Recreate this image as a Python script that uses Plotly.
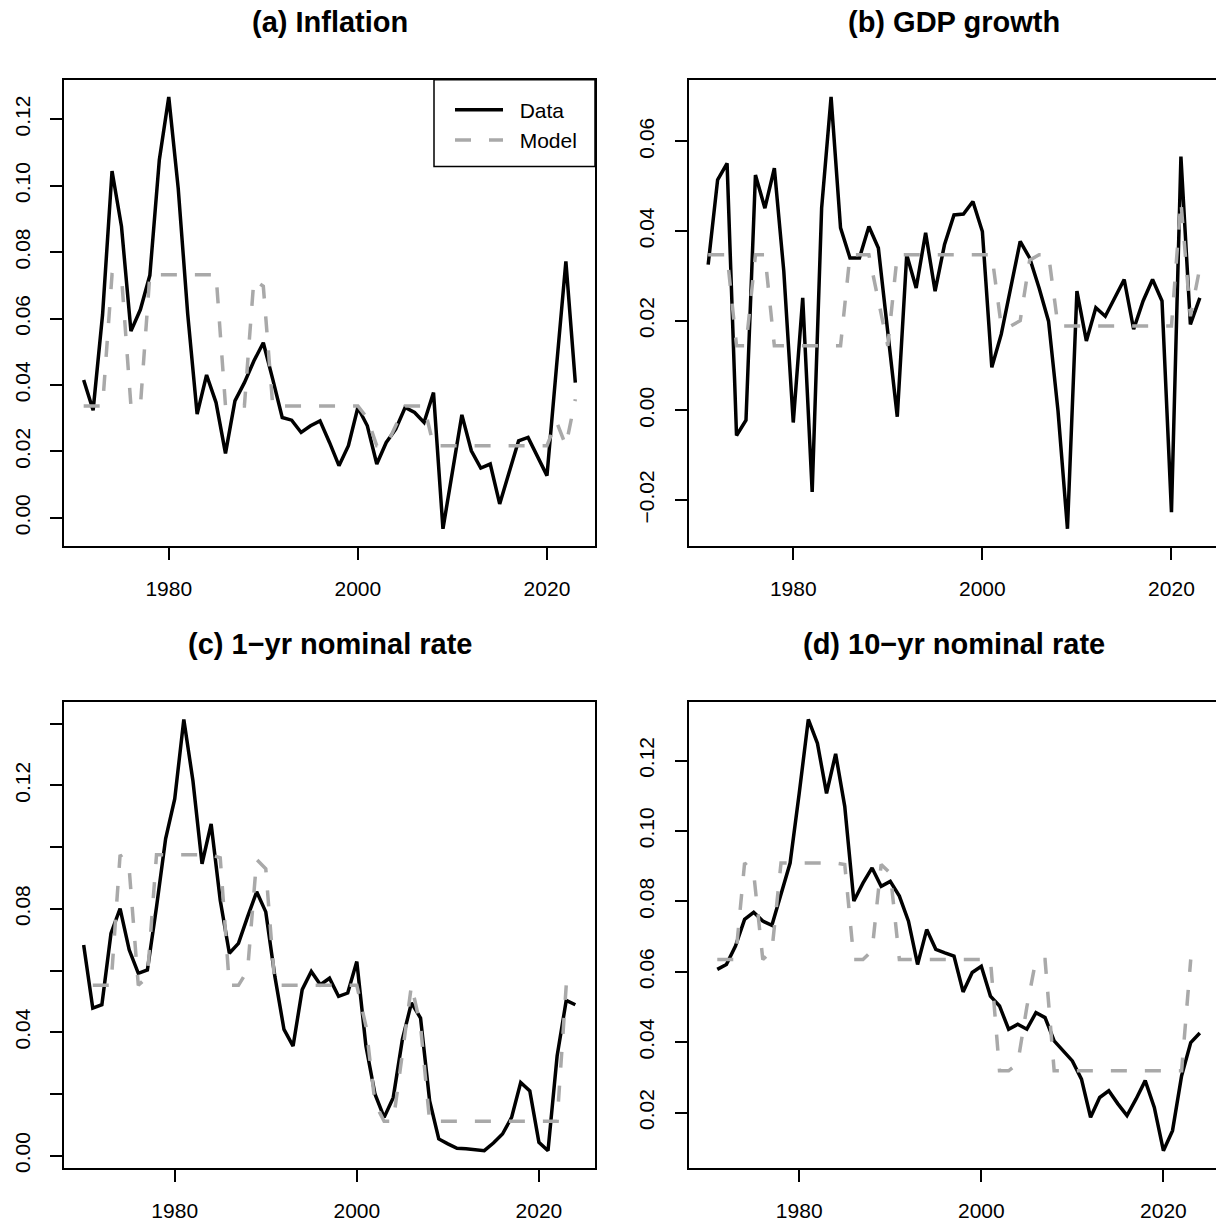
import plotly.graph_objects as go

# ---------------- data ----------------
years_ab = list(range(1971, 2024))          # panels (a), (b)
years_c = list(range(1970, 2025))           # panel (c) data
years_d = list(range(1971, 2025))           # panel (d) data
years_model = list(range(1971, 2024))       # model series (all panels)

infl_data = [0.0415, 0.0324, 0.0612, 0.1044, 0.0877, 0.0562, 0.0627, 0.0730, 0.1077, 0.1267,
             0.0992, 0.0615, 0.0312, 0.0430, 0.0347, 0.0194, 0.0352, 0.0407, 0.0472, 0.0527,
             0.0417, 0.0302, 0.0294, 0.0257, 0.0277, 0.0292, 0.0227, 0.0157, 0.0217, 0.0332,
             0.0277, 0.0162, 0.0227, 0.0267, 0.0332, 0.0317, 0.0287, 0.0377, -0.0033, 0.0142,
             0.0310, 0.0202, 0.0150, 0.0162, 0.0042, 0.0137, 0.0232, 0.0242, 0.0182, 0.0127,
             0.0452, 0.0772, 0.0407]
infl_model = [0.0337, 0.0337, 0.0337, 0.0732, 0.0727, 0.0337, 0.0337, 0.0732, 0.0732, 0.0732,
              0.0732, 0.0732, 0.0732, 0.0732, 0.0732, 0.0337, 0.0337, 0.0337, 0.0717, 0.0697,
              0.0337, 0.0337, 0.0337, 0.0337, 0.0337, 0.0337, 0.0337, 0.0337, 0.0337, 0.0337,
              0.0300, 0.0217, 0.0217, 0.0277, 0.0337, 0.0337, 0.0337, 0.0217, 0.0217, 0.0217,
              0.0217, 0.0217, 0.0217, 0.0217, 0.0217, 0.0217, 0.0217, 0.0217, 0.0217, 0.0217,
              0.0290, 0.0217, 0.0357]

gdp_data = [0.0325, 0.0514, 0.0551, -0.0056, -0.0022, 0.0525, 0.0451, 0.0540, 0.0310, -0.0027,
            0.0251, -0.0182, 0.0451, 0.0699, 0.0407, 0.0340, 0.0340, 0.0410, 0.0362, 0.0177,
            -0.0014, 0.0347, 0.0273, 0.0396, 0.0266, 0.0370, 0.0436, 0.0438, 0.0466, 0.0399,
            0.0096, 0.0170, 0.0273, 0.0377, 0.0340, 0.0273, 0.0199, -0.0001, -0.0264, 0.0266,
            0.0155, 0.0229, 0.0210, 0.0251, 0.0292, 0.0181, 0.0244, 0.0292, 0.0244, -0.0227,
            0.0566, 0.0192, 0.0251]
gdp_model = [0.0347, 0.0347, 0.0347, 0.0144, 0.0144, 0.0347, 0.0347, 0.0144, 0.0144, 0.0144,
             0.0144, 0.0144, 0.0144, 0.0144, 0.0144, 0.0347, 0.0347, 0.0347, 0.0245, 0.0144,
             0.0347, 0.0347, 0.0347, 0.0347, 0.0347, 0.0347, 0.0347, 0.0347, 0.0347, 0.0347,
             0.0347, 0.0188, 0.0188, 0.0200, 0.0335, 0.0347, 0.0347, 0.0188, 0.0188, 0.0188,
             0.0188, 0.0188, 0.0188, 0.0188, 0.0188, 0.0188, 0.0188, 0.0188, 0.0188, 0.0188,
             0.0466, 0.0210, 0.0318]

r1_data = [0.0683, 0.0478, 0.0489, 0.0720, 0.0801, 0.0667, 0.0591, 0.0602, 0.0806, 0.1027,
           0.1156, 0.1414, 0.1215, 0.0946, 0.1075, 0.0828, 0.0656, 0.0688, 0.0774, 0.0855,
           0.0790, 0.0581, 0.0409, 0.0355, 0.0538, 0.0597, 0.0554, 0.0575, 0.0516, 0.0527,
           0.0629, 0.0355, 0.0199, 0.0124, 0.0188, 0.0376, 0.0495, 0.0446, 0.0177, 0.0054,
           0.0038, 0.0024, 0.0022, 0.0019, 0.0016, 0.0041, 0.0070, 0.0124, 0.0237, 0.0210,
           0.0043, 0.0016, 0.0323, 0.0503, 0.0489]
r1_model = [0.0552, 0.0552, 0.0552, 0.0975, 0.0930, 0.0552, 0.0580, 0.0975, 0.0975, 0.0975,
            0.0975, 0.0975, 0.0975, 0.0975, 0.0965, 0.0552, 0.0552, 0.0600, 0.0960, 0.0930,
            0.0552, 0.0552, 0.0552, 0.0552, 0.0552, 0.0552, 0.0552, 0.0552, 0.0552, 0.0552,
            0.0420, 0.0170, 0.0111, 0.0111, 0.0330, 0.0552, 0.0420, 0.0111, 0.0111, 0.0111,
            0.0111, 0.0111, 0.0111, 0.0111, 0.0111, 0.0111, 0.0111, 0.0111, 0.0111, 0.0111,
            0.0111, 0.0111, 0.0552]

r10_data = [0.0607, 0.0621, 0.0673, 0.0749, 0.0769, 0.0744, 0.0732, 0.0820, 0.0909, 0.1107,
            0.1317, 0.1249, 0.1107, 0.1219, 0.1070, 0.0801, 0.0852, 0.0895, 0.0843, 0.0857,
            0.0815, 0.0744, 0.0621, 0.0720, 0.0664, 0.0654, 0.0645, 0.0543, 0.0598, 0.0616,
            0.0531, 0.0503, 0.0437, 0.0451, 0.0437, 0.0484, 0.0470, 0.0404, 0.0376, 0.0347,
            0.0295, 0.0187, 0.0243, 0.0262, 0.0225, 0.0192, 0.0239, 0.0291, 0.0215, 0.0092,
            0.0149, 0.0305, 0.0399, 0.0426]
r10_model = [0.0635, 0.0635, 0.0635, 0.0909, 0.0880, 0.0635, 0.0660, 0.0909, 0.0909, 0.0909,
             0.0909, 0.0909, 0.0909, 0.0909, 0.0905, 0.0635, 0.0635, 0.0660, 0.0905, 0.0880,
             0.0635, 0.0635, 0.0635, 0.0635, 0.0635, 0.0635, 0.0635, 0.0635, 0.0635, 0.0635,
             0.0635, 0.0319, 0.0319, 0.0340, 0.0500, 0.0635, 0.0635, 0.0319, 0.0319, 0.0319,
             0.0319, 0.0319, 0.0319, 0.0319, 0.0319, 0.0319, 0.0319, 0.0319, 0.0319, 0.0319,
             0.0319, 0.0319, 0.0635]

titles = ["(a) Inflation", "(b) GDP growth", "(c) 1\u2212yr nominal rate", "(d) 10\u2212yr nominal rate"]
x_ticks = [1980, 2000, 2020]
y_ticks_a = [0.00, 0.02, 0.04, 0.06, 0.08, 0.10, 0.12]
y_ticks_b = [-0.02, 0.00, 0.02, 0.04, 0.06]
y_ticks_c = [0.00, 0.02, 0.04, 0.06, 0.08, 0.10, 0.12, 0.14]
y_labels_c = ["0.00", "", "0.04", "", "0.08", "", "0.12", ""]
y_ticks_d = [0.02, 0.04, 0.06, 0.08, 0.10, 0.12]
legend_names = ["\u00a0\u00a0Data", "\u00a0\u00a0Model"]

# ---------------- layout geometry (pixels) ----------------
W, H = 1216, 1230
FONT = "Liberation Sans, Arial, Helvetica, sans-serif"
BLACK_W = 3.5
GRAY = "#A9A9A9"


def r_range(vals, ext=0.04):
    lo, hi = min(vals), max(vals)
    d = hi - lo
    return [lo - ext * d, hi + ext * d]


def px_dom_x(x0, x1):
    return [x0 / W, min(1.0, x1 / W)]


def px_dom_y(top, bottom):
    return [1 - bottom / H, 1 - top / H]


fig = go.Figure()

panels = [
    ("", years_ab, infl_data, infl_model),
    ("2", years_ab, gdp_data, gdp_model),
    ("3", years_c, r1_data, r1_model),
    ("4", years_d, r10_data, r10_model),
]

for i, (ax, yrs, dat, mod) in enumerate(panels):
    fig.add_trace(go.Scatter(x=yrs, y=dat, mode="lines", name=legend_names[0],
                             line=dict(color="black", width=BLACK_W),
                             xaxis="x" + ax, yaxis="y" + ax, showlegend=(i == 0)))
    fig.add_trace(go.Scatter(x=years_model, y=mod, mode="lines", name=legend_names[1],
                             line=dict(color=GRAY, width=BLACK_W, dash="16px,18px"),
                             xaxis="x" + ax, yaxis="y" + ax, showlegend=(i == 0)))

# x ranges following R's 4% extension
xr_ab = r_range(years_ab)
xr_cd = r_range(years_c)
ppy_ab = 531 / (xr_ab[1] - xr_ab[0])
ppy_cd = 531 / (xr_cd[1] - xr_cd[0])
xr_b = [xr_ab[0], xr_ab[0] + (W - 688.5) / ppy_ab]
xr_d = [xr_cd[0], xr_cd[0] + (W - 688.5) / ppy_cd]

col1 = px_dom_x(64, 595)
col2 = px_dom_x(688.5, W)
row1 = px_dom_y(80, 548.3)
row2 = px_dom_y(705, 1172.7)

common_axis = dict(showline=True, linecolor="black", linewidth=1.5, ticks="outside",
                   ticklen=12, tickwidth=1.5, tickcolor="black", showgrid=False,
                   zeroline=False, tickfont=dict(family=FONT, size=21, color="black"))


def xaxis(dom, rng, anchor, mirror=True):
    d = dict(common_axis)
    d.update(domain=dom, range=rng, anchor=anchor, tickvals=x_ticks,
             ticktext=[str(v) for v in x_ticks], mirror=mirror, ticklabelstandoff=11)
    return d


def yaxis(dom, rng, anchor, tv, tl, mirror=True):
    d = dict(common_axis)
    if tl is None:
        tl = [("\u2212" if v < 0 else "") + f"{abs(v):.2f}" for v in tv]
    d.update(domain=dom, range=rng, anchor=anchor, tickvals=tv, ticktext=tl,
             tickangle=-90, mirror=mirror, ticklabelstandoff=12)
    return d


fig.update_layout(
    width=W, height=H, margin=dict(l=0, r=0, t=0, b=0),
    paper_bgcolor="white", plot_bgcolor="white",
    xaxis=xaxis(col1, xr_ab, "y"),
    yaxis=yaxis(row1, r_range(infl_data), "x", y_ticks_a, None),
    xaxis2=xaxis(col2, xr_b, "y2"),
    yaxis2=yaxis(row1, r_range(gdp_data), "x2", y_ticks_b, None, mirror=False),
    xaxis3=xaxis(col1, xr_cd, "y3"),
    yaxis3=yaxis(row2, r_range(r1_data), "x3", y_ticks_c, y_labels_c),
    xaxis4=xaxis(col2, xr_d, "y4"),
    yaxis4=yaxis(row2, r_range(r10_data), "x4", y_ticks_d, None, mirror=False),
    showlegend=True,
    legend=dict(x=450 / W, y=1 - 90 / H, xanchor="left", yanchor="top",
                bgcolor="rgba(0,0,0,0)", borderwidth=0, itemwidth=48,
                font=dict(family=FONT, size=21, color="black"), tracegroupgap=0),
)

# legend frame
fig.add_shape(type="rect", xref="paper", yref="paper",
              x0=434 / W, x1=595 / W, y0=1 - 167.3 / H, y1=1 - 80 / H,
              line=dict(color="black", width=1.5), fillcolor="rgba(0,0,0,0)")

# titles
centers = [(329.5, 22), (954, 22), (329.5, 647), (954, 647)]
for t, (cx, cy) in zip(titles, centers):
    fig.add_annotation(text="<b>" + t + "</b>", x=cx / W, y=1 - cy / H, xref="paper",
                       yref="paper", showarrow=False, xanchor="center", yanchor="middle",
                       font=dict(family=FONT, size=29, color="black"))

fig.write_html("out.html")
